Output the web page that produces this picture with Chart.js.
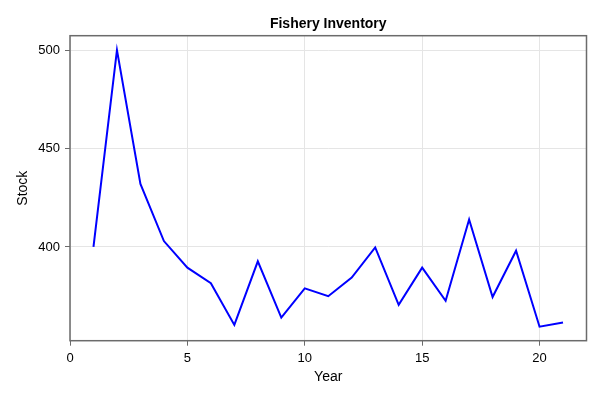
<!DOCTYPE html>
<html>
<head>
<meta charset="utf-8">
<script src="https://cdn.jsdelivr.net/npm/chart.js@4"></script>
<style>
html,body{margin:0;padding:0;background:#fff;}
#wrap{width:600px;height:400px;}
</style>
</head>
<body>
<div id="wrap"><canvas id="c" width="600" height="400"></canvas></div>
<script>
const chartTitle = 'Fishery Inventory';
const years = [1,2,3,4,5,6,7,8,9,10,11,12,13,14,15,16,17,18,19,20,21];
const stock = [400,500,432,403,389.5,381.6,360.4,392.7,364.1,379,375,384.5,399.8,370.6,389.5,372.7,414,374.6,398.1,359.5,361.6];
const yTicks = [400,450,500];
const xTicks = [0,5,10,15,20];

const FONT = "'Liberation Sans', Arial, sans-serif";

const frame = {
  id:'frame',
  afterDraw(chart){
    const a = chart.chartArea, ctx = chart.ctx;
    ctx.save();
    ctx.strokeStyle = '#6b6b6b';
    ctx.lineWidth = 1.5;
    ctx.strokeRect(a.left, a.top, a.right-a.left, a.bottom-a.top);
    ctx.font = 'bold 14px ' + FONT;
    ctx.fillStyle = '#000';
    ctx.textAlign = 'center';
    ctx.textBaseline = 'middle';
    ctx.fillText(chartTitle, (a.left+a.right)/2, 24);
    ctx.restore();
  }
};

new Chart(document.getElementById('c'), {
  type:'line',
  data:{
    datasets:[{
      data: years.map((x,i)=>({x:x,y:stock[i]})),
      borderColor:'#0000ff',
      borderWidth:2,
      pointRadius:0,
      tension:0,
      fill:false
    }]
  },
  options:{
    responsive:false,
    animation:false,
    layout:{padding:{left:0,right:13.5,top:35.7,bottom:0}},
    plugins:{
      legend:{display:false},
      tooltip:{enabled:false},
      title:{display:false}
    },
    scales:{
      x:{
        type:'linear',
        min:0,max:22,
        afterBuildTicks(s){ s.ticks = xTicks.map(v=>({value:v})); },
        afterFit(s){ s.height = 59.3; },
        grid:{color:'#e5e5e5',tickColor:'#6b6b6b',tickLength:5,drawOnChartArea:true},
        border:{display:false},
        ticks:{color:'#000',font:{family:FONT,size:13},padding:5,maxRotation:0},
        title:{display:true,text:'Year',color:'#000',font:{family:FONT,size:14},padding:{top:0,bottom:14.6}}
      },
      y:{
        type:'linear',
        min:352.4,max:507.3,
        afterBuildTicks(s){ s.ticks = yTicks.map(v=>({value:v})); },
        afterFit(s){ s.width = 70; },
        grid:{color:'#e5e5e5',tickColor:'#6b6b6b',tickLength:5},
        border:{display:false},
        ticks:{color:'#000',font:{family:FONT,size:13},padding:5},
        title:{display:true,text:'Stock',color:'#000',font:{family:FONT,size:14},padding:{top:14.6,bottom:0}}
      }
    }
  },
  plugins:[frame]
});
</script>
</body>
</html>
